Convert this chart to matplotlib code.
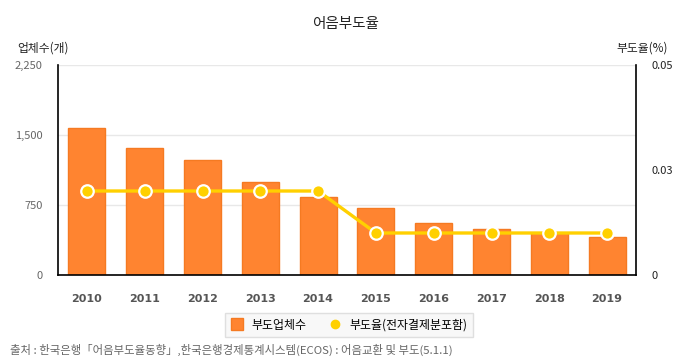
import matplotlib
matplotlib.use("Agg")
import matplotlib.pyplot as plt
from matplotlib.lines import Line2D
from matplotlib.ticker import FixedLocator

plt.rcParams['font.family'] = ['Noto Sans CJK KR', 'DejaVu Sans']

years = ['2010', '2011', '2012', '2013', '2014', '2015', '2016', '2017', '2018', '2019']
companies = [1578, 1357, 1232, 996, 836, 714, 554, 489, 446, 404]
rates = [0.02, 0.02, 0.02, 0.02, 0.02, 0.01, 0.01, 0.01, 0.01, 0.01]
left_ticks = [0, 750, 1500, 2250]
left_labels = ['0', '750', '1,500', '2,250']
right_ticks = [0, 0.025, 0.05]
right_labels = ['0', '0.03', '0.05']

bar_color = '#FF8430'
bar_edge = '#F57A22'
line_color = '#FFD000'

fig = plt.figure(figsize=(6.9, 3.6), dpi=100)
ax = fig.add_axes([58/690, 85/360, (636-58)/690, 210/360])
x = list(range(len(years)))
ax.bar(x, companies, width=0.64, color=bar_color, edgecolor=bar_edge, linewidth=1, zorder=2)
ax.set_xlim(-0.5, len(years) - 0.5)
ax.set_ylim(0, 2250)
ax.yaxis.set_major_locator(FixedLocator(left_ticks))
ax.set_yticklabels(left_labels, color='#666666', fontsize=8)
ax.set_xticks(x)
ax.set_xticklabels(years, color='#555555', fontsize=8, fontweight='bold', family=['DejaVu Sans'])
ax.tick_params(axis='both', length=0)
ax.tick_params(axis='x', pad=14)
ax.tick_params(axis='y', pad=11)
ax.grid(axis='y', color='#e8e8e8', linewidth=1, zorder=0)
ax.set_axisbelow(True)
for s in ['top', 'right']:
    ax.spines[s].set_visible(False)
ax.spines['left'].set_color('black')
ax.spines['bottom'].set_color('black')
ax.spines['left'].set_linewidth(1.2)
ax.spines['bottom'].set_linewidth(1.2)

ax2 = ax.twinx()
ax2.plot(x, rates, color=line_color, linewidth=2.4, marker='o', markersize=9,
         markerfacecolor=line_color, markeredgecolor='white', markeredgewidth=1.6, zorder=3)
ax2.set_ylim(0, 0.05)
ax2.yaxis.set_major_locator(FixedLocator(right_ticks))
ax2.set_yticklabels(right_labels, color='#222222', fontsize=8)
ax2.tick_params(axis='y', length=0, pad=11.5)
for s in ['top', 'left', 'bottom']:
    ax2.spines[s].set_visible(False)
ax2.spines['right'].set_color('black')
ax2.spines['right'].set_linewidth(1.2)

fig.text(345/690, 1 - 24/360, '어음부도율', ha='center', va='center', fontsize=10.5, color='#222222')
fig.text(17/690, 1 - 48/360, '업체수(개)', ha='left', va='center', fontsize=8.5, color='#222222')
fig.text(668/690, 1 - 48/360, '부도율(%)', ha='right', va='center', fontsize=8.5, color='#222222')

handles = [
    Line2D([0], [0], marker='s', linestyle='none', markersize=9, markerfacecolor=bar_color, markeredgecolor=bar_edge),
    Line2D([0], [0], marker='o', linestyle='none', markersize=6, markerfacecolor=line_color, markeredgecolor=line_color),
]
leg = fig.legend(handles, ['부도업체수', '부도율(전자결제분포함)'], loc='center', bbox_to_anchor=(349/690, 1 - 325/360),
                 ncol=2, frameon=True, fontsize=8.6, handletextpad=0.6, columnspacing=1.8,
                 borderpad=0.45, fancybox=False, handlelength=1.2)
leg.get_frame().set_facecolor('#f7f7f7')
leg.get_frame().set_edgecolor('#d8d8d8')
leg.get_frame().set_linewidth(1)

fig.text(10/690, 1 - 350/360, '출처 : 한국은행「어음부도율동향」,한국은행경제통계시스템(ECOS) : 어음교환 및 부도(5.1.1)',
         ha='left', va='center', fontsize=8.2, color='#666666')

fig.savefig('out.png', dpi=100)
